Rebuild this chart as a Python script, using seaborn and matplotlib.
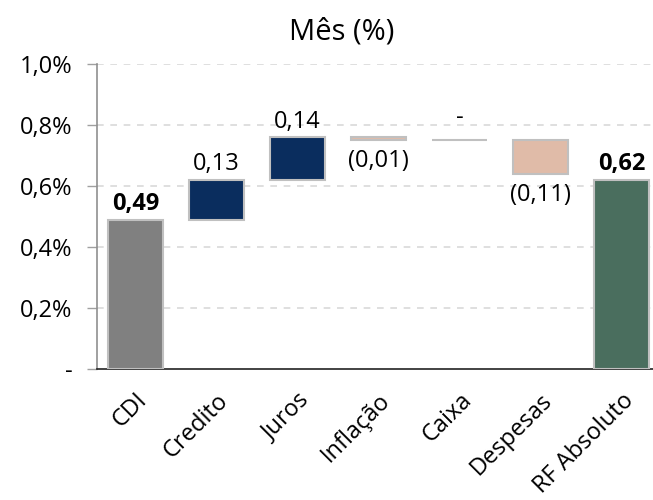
import matplotlib
matplotlib.use("Agg")
import matplotlib.pyplot as plt
import seaborn as sns
import pandas as pd

# dados do gráfico (valores em %)
categorias = ["CDI", "Credito", "Juros", "Inflação", "Caixa", "Despesas", "RF Absoluto"]
variacoes = [0.49, 0.13, 0.14, -0.01, 0.00, -0.11]
total = 0.62
cores = ["#808080", "#0a2d5e", "#0a2d5e", "#e0bba8", "#c0c0c0", "#e0bba8", "#4a6e5e"]
y_ticks = [0.0, 0.2, 0.4, 0.6, 0.8, 1.0]


def fmt_num(v):
    if abs(v) < 1e-9:
        return "-"
    s = f"{abs(v):.2f}".replace(".", ",")
    return f"({s})" if v < 0 else s


def fmt_tick(v):
    if abs(v) < 1e-9:
        return "-"
    return f"{v:.1f}%".replace(".", ",")


# base e altura de cada barra da cascata
bases, alturas = [], []
acum = 0.0
for i, v in enumerate(variacoes):
    if i == 0:
        bases.append(0.0)
        alturas.append(v)
    else:
        bases.append(min(acum, acum + v))
        alturas.append(abs(v))
    acum += v
bases.append(0.0)
alturas.append(total)
valores = variacoes + [total]

df = pd.DataFrame({"cat": categorias, "altura": alturas})

sns.set_theme(style="white")
plt.rcParams["font.family"] = ["Open Sans", "DejaVu Sans"]
plt.rcParams["text.color"] = "black"
plt.rcParams["xtick.color"] = "black"
plt.rcParams["ytick.color"] = "black"

fig = plt.figure(figsize=(6.53, 5.0), dpi=100)
ax = fig.add_axes([0.149, 0.262, 0.851, 0.61])

sns.barplot(data=df, x="cat", y="altura", hue="cat", palette=cores, legend=False,
            saturation=1, width=0.68, edgecolor="#c0c0c0", linewidth=1.5, ax=ax, zorder=3)

for p in ax.patches:
    i = int(round(p.get_x() + p.get_width() / 2))
    p.set_y(bases[i])
    cx = p.get_x() + p.get_width() / 2
    topo = bases[i] + alturas[i]
    negrito = i in (0, len(categorias) - 1)
    if valores[i] < 0:
        ax.text(cx, bases[i] - 0.03, fmt_num(valores[i]), ha="center", va="top",
                fontsize=17, color="black")
    else:
        gap = 0.035 if abs(valores[i]) < 1e-9 else 0.012
        ax.text(cx, topo + gap, fmt_num(valores[i]), ha="center", va="bottom",
                fontsize=17, color="black", fontweight="bold" if negrito else "normal")

ax.set_ylim(0, 1.0)
ax.set_xlim(-0.47, 6.39)
ax.set_yticks(y_ticks)
ax.set_yticklabels([fmt_tick(t) for t in y_ticks], fontsize=17)
ax.yaxis.grid(True, linestyle=(0, (4, 4)), color="#d9d9d9", linewidth=1.2, zorder=0)
for gl in ax.get_ygridlines()[:1]:
    gl.set_visible(False)
ax.tick_params(axis="y", which="both", left=True, length=7, width=1, color="#a0a0a0", pad=11)
ax.tick_params(axis="x", bottom=False, pad=8)

ax.set_xticks(range(len(categorias)))
ax.set_xticklabels(categorias, rotation=45, ha="right", rotation_mode="anchor", fontsize=17)
ax.set_xlabel("")
ax.set_ylabel("")
fig.text(342 / 653, 1 - 32 / 500, "Mês (%)", ha="center", va="center", fontsize=21)

for s in ("top", "right"):
    ax.spines[s].set_visible(False)
ax.spines["left"].set_color("#909090")
ax.spines["left"].set_linewidth(1.2)
ax.spines["bottom"].set_color("#222222")
ax.spines["bottom"].set_linewidth(1.2)

fig.savefig("out.png", dpi=100)
